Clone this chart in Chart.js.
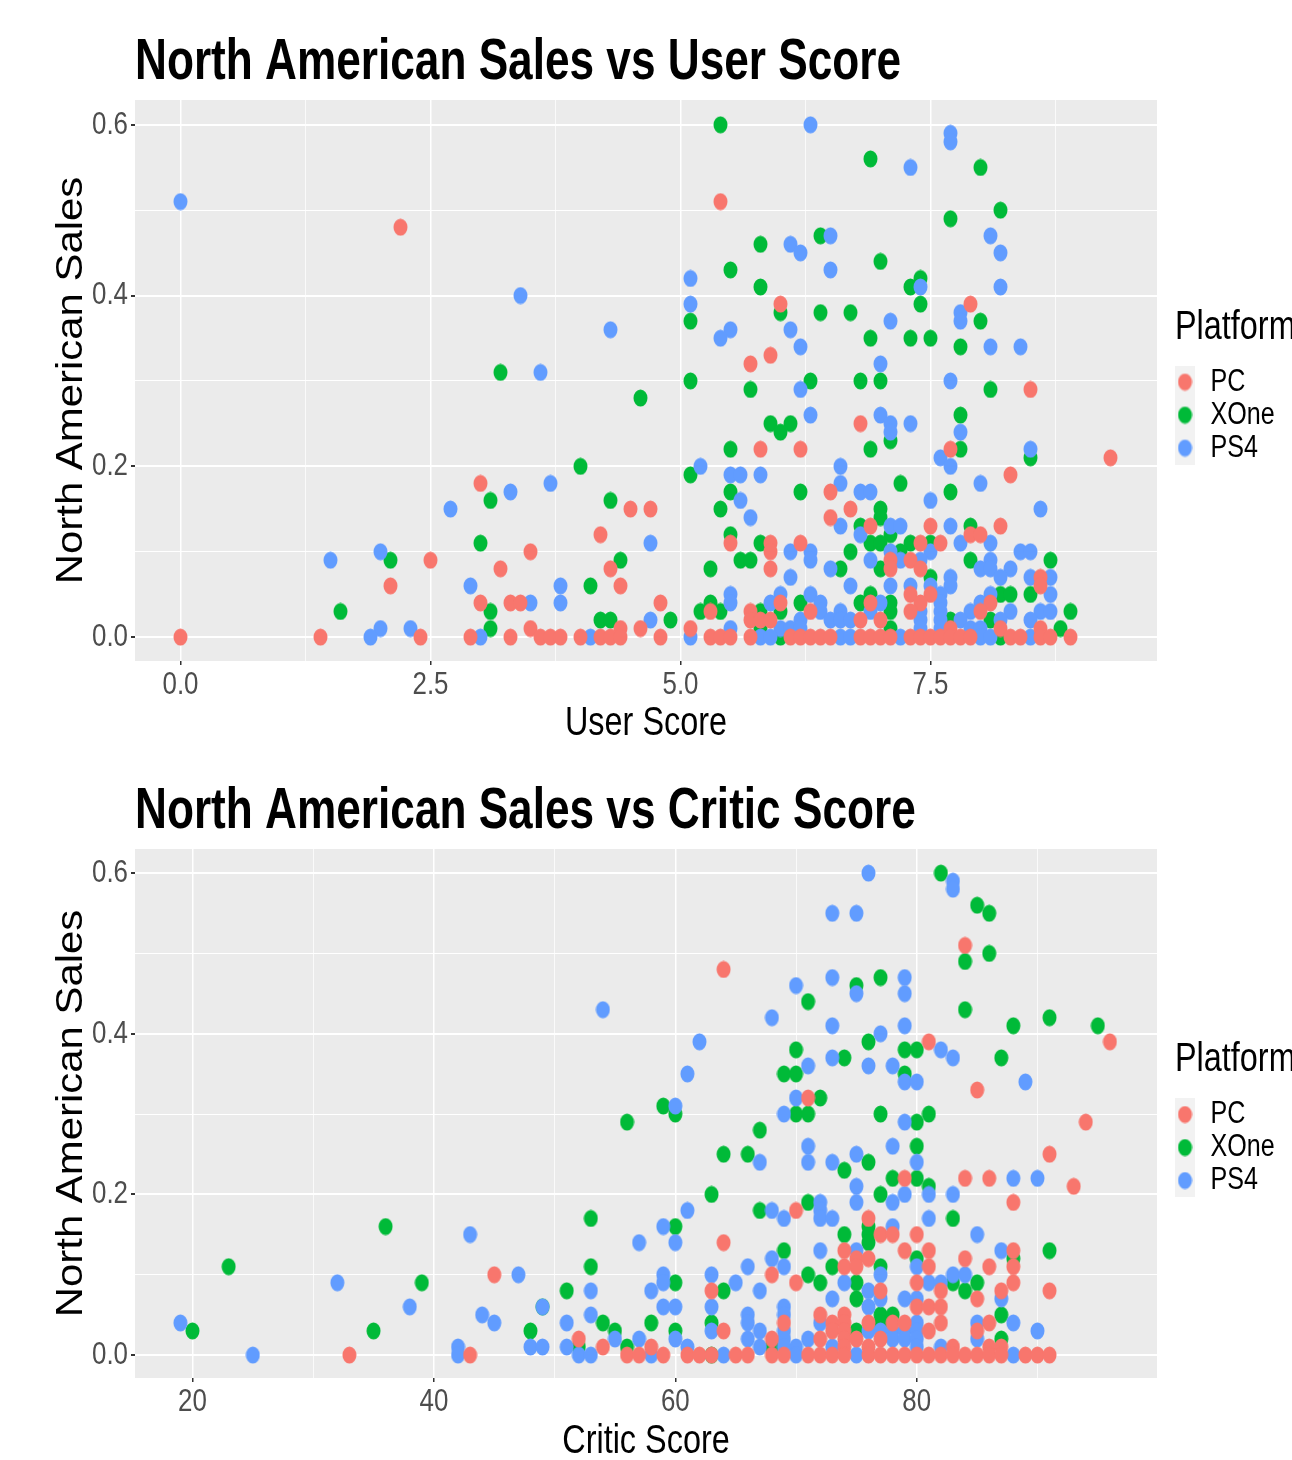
<!DOCTYPE html>
<html lang="en">
<head>
<meta charset="UTF-8">
<title>North American Sales</title>
<script src="https://cdn.jsdelivr.net/npm/chart.js"></script>
<style>
  html, body { margin: 0; padding: 0; background: #ffffff; overflow: hidden; }
  canvas { position: absolute; left: 0; display: block; }
  #userChart { top: 0; }
  #criticChart { top: 745px; }
</style>
</head>
<body>
<canvas id="userChart" width="1292" height="742"></canvas>
<canvas id="criticChart" width="1292" height="715"></canvas>
<script>
// Data, [score, sales]
const platforms = ['PC', 'XOne', 'PS4'];
const salesTicks = [0, 0.1, 0.2, 0.3, 0.4, 0.5, 0.6];
const salesMajor = [0, 0.2, 0.4, 0.6];
const userTicks = [0, 1.25, 2.5, 3.75, 5, 6.25, 7.5, 8.75];
const userMajor = [0, 2.5, 5, 7.5];
const criticTicks = [20, 30, 40, 50, 60, 70, 80, 90];
const criticMajor = [20, 40, 60, 80];

const userPC = [
  [2.2,.48],[5.4,.51],[6,.39],[7.9,.39],[5.9,.33],[5.7,.32],[8.5,.29],[6.8,.25],[5.8,.22],[6.2,.22],[7.7,.22],
  [9.3,.21],[8.3,.19],[3,.18],[6.5,.17],[4.5,.15],[4.7,.15],[6.7,.15],[6.5,.14],[6.9,.13],[7.5,.13],[8.2,.13],
  [4.2,.12],[7.9,.12],[8,.12],[5.5,.11],[5.9,.11],[6.2,.11],[7.4,.11],[7.6,.11],[3.5,.1],[5.9,.1],[2.5,.09],
  [7.1,.09],[7.3,.09],[3.2,.08],[4.3,.08],[5.9,.08],[7.1,.08],[7.4,.08],[2.1,.06],[4.4,.06],[8.6,.07],[8.6,.06],
  [7.3,.05],[7.5,.05],[3,.04],[3.3,.04],[3.4,.04],[4.8,.04],[6,.04],[6.9,.04],[7.4,.04],[8.1,.04],[5.3,.03],
  [5.7,.03],[6.3,.03],[7.3,.03],[8,.03],[5.7,.02],[5.8,.02],[5.9,.02],[6.8,.02],[7,.02],[3.5,.01],[4.4,.01],
  [4.6,.01],[5.1,.01],[7.7,.01],[8.2,.01],[8.6,.01],[0,0],[1.4,0],[2.4,0],[2.9,0],[3.3,0],[3.6,0],[3.7,0],
  [3.8,0],[4,0],[4.2,0],[4.3,0],[4.4,0],[4.8,0],[5.3,0],[5.4,0],[5.5,0],[5.7,0],[6.1,0],[6.2,0],[6.3,0],[6.4,0],
  [6.5,0],[6.8,0],[6.9,0],[7,0],[7.1,0],[7.3,0],[7.4,0],[7.5,0],[7.6,0],[7.7,0],[7.8,0],[7.9,0],[8.3,0],[8.4,0],
  [8.6,0],[8.7,0],[8.9,0]
];
const userXOne = [
  [5.4,.6],[6.9,.56],[8,.55],[8.2,.5],[7.7,.49],[6.4,.47],[5.8,.46],[7,.44],[5.5,.43],[7.4,.42],[5.8,.41],[7.3,.41],
  [7.4,.39],[6,.38],[6.4,.38],[6.7,.38],[5.1,.37],[8,.37],[6.9,.35],[7.3,.35],[7.5,.35],[7.8,.34],[3.2,.31],[5.1,.3],
  [6.3,.3],[6.8,.3],[7,.3],[5.7,.29],[8.1,.29],[4.6,.28],[7.8,.26],[5.9,.25],[6.1,.25],[6,.24],[7.1,.23],[5.5,.22],
  [6.9,.22],[7.8,.22],[8.5,.21],[4,.2],[5.1,.19],[7.2,.18],[5.5,.17],[6.2,.17],[7.7,.17],[3.1,.16],[4.3,.16],[5.4,.15],
  [7,.15],[7,.14],[6.8,.13],[7.9,.13],[5.5,.12],[7.1,.12],[3,.11],[5.8,.11],[6.9,.11],[7,.11],[7.3,.11],[7.5,.11],
  [6.7,.1],[7.2,.1],[2.1,.09],[4.4,.09],[5.6,.09],[5.7,.09],[7.9,.09],[8.7,.09],[5.3,.08],[6.6,.08],[7,.08],[7.5,.07],
  [4.1,.06],[6.9,.05],[8.2,.05],[8.3,.05],[8.5,.05],[5.3,.04],[6.2,.04],[6.8,.04],[7.1,.04],[1.6,.03],[3.1,.03],[5.2,.03],
  [5.4,.03],[5.8,.03],[6,.03],[7.1,.03],[8.9,.03],[4.2,.02],[4.3,.02],[4.9,.02],[7.7,.02],[8.1,.02],[3.1,.01],[5.8,.01],
  [7.1,.01],[8.8,.01],[6,0],[8.2,0]
];
const userPS4 = [
  [0,.51],[6.3,.6],[7.7,.59],[7.7,.58],[7.3,.55],[6.5,.47],[8.1,.47],[6.1,.46],[6.2,.45],[8.2,.45],[6.5,.43],[5.1,.42],
  [7.4,.41],[8.2,.41],[3.4,.4],[5.1,.39],[7.8,.38],[7.8,.37],[7.1,.37],[4.3,.36],[5.5,.36],[6.1,.36],[5.4,.35],[6.2,.34],
  [8.1,.34],[8.4,.34],[7,.32],[3.6,.31],[7.7,.3],[6.2,.29],[6.3,.26],[7,.26],[7.1,.25],[7.3,.25],[7.1,.24],[7.8,.24],
  [8.5,.22],[7.6,.21],[5.2,.2],[6.6,.2],[7.7,.2],[5.5,.19],[5.6,.19],[5.8,.19],[3.7,.18],[6.6,.18],[8,.18],[3.3,.17],
  [6.8,.17],[6.9,.17],[5.6,.16],[7.5,.16],[2.7,.15],[8.6,.15],[5.7,.14],[6.6,.13],[7.1,.13],[7.2,.13],[7.7,.13],[6.8,.12],
  [4.7,.11],[7.8,.11],[8.1,.11],[2,.1],[6.1,.1],[6.3,.1],[7.1,.1],[7.5,.1],[8.4,.1],[8.5,.1],[1.5,.09],[6.3,.09],[6.9,.09],
  [7.2,.09],[7.4,.09],[8.1,.09],[6.5,.08],[8,.08],[8.1,.08],[8.3,.08],[6.1,.07],[7.7,.07],[8.2,.07],[8.5,.07],[8.7,.07],
  [2.9,.06],[3.8,.06],[6.7,.06],[7.1,.06],[7.3,.06],[7.5,.06],[7.7,.06],[5.5,.05],[6,.05],[6.3,.05],[7.6,.05],[8.1,.05],
  [8.7,.05],[3.5,.04],[3.8,.04],[5.5,.04],[5.9,.04],[6.4,.04],[7,.04],[7.6,.04],[8,.04],[6.4,.03],[6.6,.03],[6.9,.03],
  [7.4,.03],[7.6,.03],[7.9,.03],[8.3,.03],[8.6,.03],[8.7,.03],[4.7,.02],[6.2,.02],[6.5,.02],[6.6,.02],[6.7,.02],[7.4,.02],
  [7.6,.02],[7.8,.02],[8.2,.02],[8.5,.02],[2,.01],[2.3,.01],[5.5,.01],[6,.01],[6.1,.01],[6.2,.01],[7.4,.01],[7.6,.01],
  [7.9,.01],[8,.01],[1.9,0],[3,0],[4.1,0],[5.1,0],[5.8,0],[5.9,0],[6.6,0],[6.7,0],[7.2,0],[8,0],[8.1,0],[8.5,0]
];

const criticPC = [
  [84,.51],[64,.48],[81,.39],[96,.39],[85,.33],[71,.32],[94,.29],[91,.25],[79,.22],[84,.22],[86,.22],[93,.21],[88,.19],
  [70,.18],[76,.17],[77,.15],[78,.15],[80,.15],[64,.14],[74,.13],[79,.13],[81,.13],[88,.13],[75,.12],[76,.12],[84,.12],
  [74,.11],[75,.11],[81,.11],[86,.11],[88,.11],[45,.1],[68,.1],[70,.09],[80,.09],[88,.09],[63,.08],[77,.08],[82,.08],
  [87,.08],[91,.08],[85,.07],[80,.06],[81,.06],[82,.06],[72,.05],[74,.05],[69,.04],[73,.04],[74,.04],[76,.04],[78,.04],
  [79,.04],[82,.04],[86,.04],[64,.03],[73,.03],[74,.03],[81,.03],[85,.03],[52,.02],[68,.02],[72,.02],[74,.02],[75,.02],
  [77,.02],[54,.01],[58,.01],[74,.01],[76,.01],[83,.01],[86,.01],[87,.01],[33,0],[43,0],[56,0],[57,0],[59,0],[61,0],
  [62,0],[63,0],[65,0],[66,0],[68,0],[69,0],[71,0],[72,0],[73,0],[74,0],[76,0],[77,0],[78,0],[79,0],[80,0],[81,0],[82,0],
  [83,0],[84,0],[85,0],[86,0],[87,0],[89,0],[90,0],[91,0]
];
const criticXOne = [
  [82,.6],[85,.56],[86,.55],[86,.5],[84,.49],[77,.47],[75,.46],[71,.44],[84,.43],[91,.42],[88,.41],[95,.41],[76,.39],[70,.38],
  [79,.38],[80,.38],[74,.37],[87,.37],[69,.35],[70,.35],[79,.35],[72,.32],[59,.31],[60,.3],[70,.3],[71,.3],[77,.3],[81,.3],
  [56,.29],[80,.29],[67,.28],[64,.25],[66,.25],[80,.26],[76,.24],[74,.23],[78,.22],[80,.22],[81,.21],[63,.2],[77,.2],[71,.19],
  [67,.18],[83,.17],[53,.17],[36,.16],[60,.16],[76,.16],[74,.15],[76,.15],[76,.14],[69,.13],[91,.13],[80,.12],[88,.12],
  [23,.11],[53,.11],[73,.11],[77,.11],[71,.1],[39,.09],[60,.09],[72,.09],[75,.09],[83,.09],[85,.09],[64,.08],[51,.08],[84,.08],
  [75,.07],[77,.05],[78,.05],[87,.05],[49,.06],[58,.04],[63,.04],[54,.04],[77,.04],[20,.03],[35,.03],[48,.03],[55,.03],[60,.03],
  [75,.03],[87,.02],[56,.01],[52,.01],[68,.01],[63,0]
];
const criticPS4 = [
  [76,.6],[83,.59],[83,.58],[73,.55],[75,.55],[73,.47],[79,.47],[70,.46],[75,.45],[79,.45],[54,.43],[68,.42],[73,.41],[79,.41],
  [77,.4],[62,.39],[82,.38],[83,.37],[73,.37],[71,.36],[76,.36],[78,.36],[61,.35],[79,.34],[80,.34],[89,.34],[70,.32],[60,.31],
  [69,.3],[79,.29],[71,.26],[78,.26],[75,.25],[67,.24],[71,.24],[73,.24],[80,.24],[88,.22],[90,.22],[75,.21],[79,.2],[81,.2],[83,.2],
  [72,.19],[75,.19],[78,.19],[61,.18],[68,.18],[72,.18],[69,.17],[72,.17],[73,.17],[81,.17],[59,.16],[78,.16],[43,.15],[85,.15],
  [57,.14],[60,.14],[72,.13],[75,.13],[87,.13],[68,.12],[66,.11],[69,.11],[80,.11],[47,.1],[59,.1],[63,.1],[77,.1],[83,.1],[84,.1],
  [32,.09],[59,.09],[65,.09],[74,.09],[81,.09],[82,.09],[58,.08],[67,.08],[76,.08],[53,.08],[73,.07],[77,.07],[79,.07],[80,.07],[87,.07],
  [38,.06],[49,.06],[59,.06],[60,.06],[63,.06],[69,.06],[76,.06],[44,.05],[53,.05],[66,.05],[69,.05],[19,.04],[45,.04],[51,.04],
  [66,.04],[72,.04],[80,.04],[85,.04],[88,.04],[63,.03],[67,.03],[69,.03],[76,.03],[77,.03],[78,.03],[79,.03],[80,.03],[90,.03],[55,.02],
  [57,.02],[60,.02],[66,.02],[69,.02],[71,.02],[78,.02],[79,.02],[80,.02],[85,.02],[42,.01],[48,.01],[49,.01],[51,.01],[61,.01],[67,.01],
  [69,.01],[70,.01],[73,.01],[80,.01],[82,.01],[25,0],[42,0],[52,0],[53,0],[58,0],[64,0],[70,0],[75,0],[88,0]
];

const platformColors = ['#F8766D', '#00BA38', '#619CFF'];
const sans = '"Liberation Sans", sans-serif';

// the reference image is squashed sideways: horizontal text is narrower,
// the rotated y title comes out longer, and the dots are ellipses
function stretchText(ctx) {
  const fill = ctx.fillText.bind(ctx);
  ctx.fillText = (text, x, y) => {
    let sx = 0.81;
    if (ctx.font.includes('bold')) sx = 0.775;
    else if (ctx.font.includes('36px')) sx = 1.164;
    ctx.save();
    ctx.translate(x, y);
    ctx.scale(sx, 1);
    fill(text, 0, 0);
    ctx.restore();
  };
}

function ellipseDot(color) {
  const c = document.createElement('canvas');
  c.width = 15;
  c.height = 18;
  const ctx = c.getContext('2d');
  ctx.fillStyle = color;
  ctx.beginPath();
  ctx.ellipse(7.5, 9, 7, 8.6, 0, 0, Math.PI * 2);
  ctx.fill();
  return c;
}

// key is 22 wide so that it lines up with the title, only 20 of it is painted
function legendKey(color) {
  const c = document.createElement('canvas');
  c.width = 22;
  c.height = 33;
  const ctx = c.getContext('2d');
  ctx.fillStyle = '#f2f2f2';
  ctx.fillRect(0, 0, 20, 33);
  ctx.drawImage(ellipseDot(color), 2.5, 7.5);
  return c;
}

const dots = platformColors.map(ellipseDot);
const keys = platformColors.map(legendKey);

const panelBackground = {
  id: 'panelBackground',
  beforeDraw(chart) {
    const a = chart.chartArea;
    chart.ctx.fillStyle = '#ebebeb';
    chart.ctx.fillRect(a.left, a.top, a.width, a.height);
  }
};

function makeChart(id, cfg) {
  const canvas = document.getElementById(id);
  stretchText(canvas.getContext('2d'));
  const scaleGrid = (major, width) => ({
    color: '#ffffff',
    lineWidth: c => major.includes(c.tick.value) ? width : width / 2,
    tickColor: c => major.includes(c.tick.value) ? '#333333' : 'rgba(0,0,0,0)',
    tickLength: 4,
    drawTicks: true
  });
  const sets = cfg.series.map((points, i) => ({
    label: platforms[i],
    data: points.map(p => ({ x: p[0], y: p[1] })),
    backgroundColor: platformColors[i],
    pointStyle: dots[i],
    pointRadius: 8,
    order: [0, 2, 1][i]
  }));
  return new Chart(canvas, {
    type: 'scatter',
    data: { datasets: sets },
    plugins: [panelBackground, {
      id: 'moveLegend',
      afterLayout(chart) {
        chart.legend.left = 1175;
        chart.legend.right = 1292;
        chart.legend.width = 117;
        chart.legend.top = cfg.legendTop;
      }
    }],
    options: {
      responsive: false,
      animation: false,
      layout: { padding: { left: 0, right: 35, top: 0, bottom: 0 } },
      scales: {
        x: {
          type: 'linear',
          min: cfg.xMin,
          max: cfg.xMax,
          border: { display: false },
          grid: scaleGrid(cfg.xMajor, 1.5),
          afterBuildTicks: s => { s.ticks = cfg.xTicks.map(v => ({ value: v })); },
          afterFit: s => { s.height = cfg.xHeight; },
          ticks: {
            autoSkip: false,
            maxRotation: 0,
            padding: 1,
            color: '#4d4d4d',
            font: { family: sans, size: 32 },
            callback: v => cfg.xMajor.includes(v) ? v.toFixed(cfg.xDigits) : ''
          },
          title: {
            display: true,
            text: cfg.xTitle,
            color: '#000000',
            padding: 0,
            font: { family: sans, size: 40, lineHeight: 0.9 }
          }
        },
        y: {
          type: 'linear',
          min: cfg.yMin,
          max: cfg.yMax,
          border: { display: false },
          grid: scaleGrid(salesMajor, 2),
          afterBuildTicks: s => { s.ticks = salesTicks.map(v => ({ value: v })); },
          afterFit: s => { s.width = 135; },
          ticks: {
            autoSkip: false,
            padding: 3,
            color: '#4d4d4d',
            font: { family: sans, size: 32 },
            callback: v => salesMajor.includes(v) ? v.toFixed(1) : ''
          },
          title: {
            display: true,
            text: 'North American Sales',
            color: '#000000',
            padding: { top: 50, bottom: 0 },
            font: { family: sans, size: 36, lineHeight: 1.2 }
          }
        }
      },
      plugins: {
        tooltip: { enabled: false },
        title: {
          display: true,
          text: cfg.title,
          align: 'start',
          fullSize: false,
          color: '#000000',
          padding: { top: cfg.titleTop, bottom: 8 },
          font: { family: sans, size: 57, weight: 'bold', lineHeight: 1 }
        },
        legend: {
          display: true,
          position: 'right',
          align: 'start',
          maxWidth: 100,
          title: {
            display: true,
            text: 'Platform',
            position: 'start',
            color: '#000000',
            padding: { top: 0, bottom: 17 },
            font: { family: sans, size: 40, lineHeight: 1 }
          },
          labels: {
            usePointStyle: true,
            boxWidth: 18,
            boxHeight: 31,
            pointStyleWidth: 18,
            padding: 2,
            color: '#000000',
            font: { family: sans, size: 31 },
            sort: (a, b) => a.datasetIndex - b.datasetIndex,
            generateLabels: chart => Chart.defaults.plugins.legend.labels.generateLabels(chart)
              .map(item => Object.assign(item, { pointStyle: keys[item.datasetIndex] }))
          }
        }
      }
    }
  });
}

makeChart('userChart', {
  title: 'North American Sales vs User Score',
  xTitle: 'User Score',
  series: [userPC, userXOne, userPS4],
  xTicks: userTicks,
  xMajor: userMajor,
  xDigits: 1,
  xMin: -0.455,
  xMax: 9.765,
  yMin: -0.028,
  yMax: 0.629,
  xHeight: 81,
  titleTop: 35,
  legendTop: 307.5
});

makeChart('criticChart', {
  title: 'North American Sales vs Critic Score',
  xTitle: 'Critic Score',
  series: [criticPC, criticXOne, criticPS4],
  xTicks: criticTicks,
  xMajor: criticMajor,
  xDigits: 0,
  xMin: 15.24,
  xMax: 99.9,
  yMin: -0.0286,
  yMax: 0.63,
  xHeight: 82,
  titleTop: 39,
  legendTop: 295
});
</script>
</body>
</html>
